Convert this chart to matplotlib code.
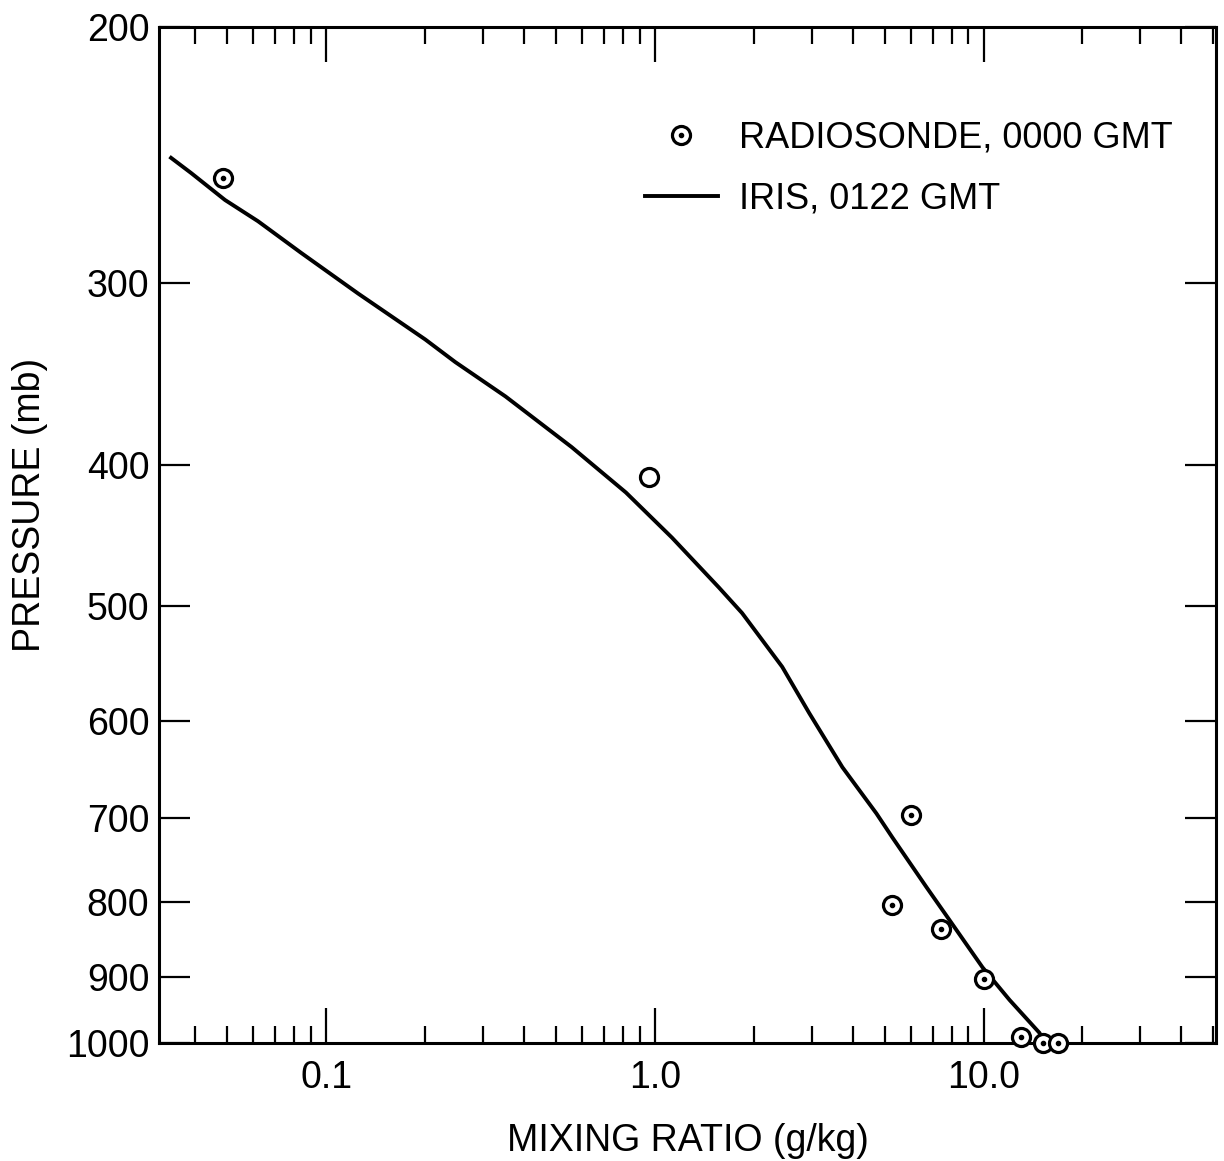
import numpy as np
import matplotlib
matplotlib.use("Agg")
import matplotlib.pyplot as plt
import matplotlib.ticker as ticker
from matplotlib.legend_handler import HandlerTuple

plt.rcParams['font.family'] = ['Liberation Sans', 'DejaVu Sans']

# radiosonde, 0000 GMT
sonde_mr = [0.0485, 0.96, 6.0, 5.28, 7.4, 10.05, 13.0, 15.2, 16.8]
sonde_p = [254, 408, 697, 803, 835, 903, 991, 1000, 1000]
sonde_dot = [True, False, True, True, True, True, True, True, True]

# IRIS, 0122 GMT
iris_mr = [0.0337, 0.0388, 0.0492, 0.062, 0.0839, 0.125, 0.200, 0.247, 0.351,
           0.558, 0.816, 1.127, 1.567, 1.842, 2.44, 2.95, 3.72, 4.72, 5.28,
           6.70, 7.88, 9.93, 12.0, 14.8, 15.35]
iris_p = [246, 252, 263, 272, 286, 305, 328, 340, 359,
          389, 418, 449, 486, 506, 551, 593, 646, 695, 722,
          781, 823, 887, 934, 984, 1000]

p_ticks = [200, 300, 400, 500, 600, 700, 800, 900, 1000]
mr_ticks = [0.1, 1.0, 10.0]
mr_labels = ["0.1", "1.0", "10.0"]

fig = plt.figure(figsize=(12.24, 11.61), dpi=100)
ax = fig.add_axes([0.130, 0.1016, 0.8635, 0.875])

line, = ax.plot(iris_mr, iris_p, color='black', lw=2.8)
circles, = ax.plot(sonde_mr, sonde_p, ls='none', marker='o', ms=13,
                   mfc='white', mec='black', mew=2.3, clip_on=False, zorder=3)
dx = [m for m, d in zip(sonde_mr, sonde_dot) if d]
dy = [p for p, d in zip(sonde_p, sonde_dot) if d]
dots, = ax.plot(dx, dy, ls='none', marker='o', ms=3, color='black',
                clip_on=False, zorder=4)

ax.set_xscale('log')
ax.set_yscale('log')
ax.set_xlim(0.031, 51)
ax.set_ylim(1000, 200)

ax.xaxis.set_major_locator(ticker.FixedLocator(mr_ticks))
ax.xaxis.set_major_formatter(ticker.FixedFormatter(mr_labels))
ax.xaxis.set_minor_locator(ticker.LogLocator(base=10, subs=np.arange(2, 10)))
ax.xaxis.set_minor_formatter(ticker.NullFormatter())
ax.yaxis.set_major_locator(ticker.FixedLocator(p_ticks))
ax.yaxis.set_major_formatter(ticker.FixedFormatter([str(p) for p in p_ticks]))
ax.yaxis.set_minor_locator(ticker.NullLocator())

ax.tick_params(axis='x', which='major', direction='in', top=True, length=25,
               width=1.6, labelsize=27, pad=12)
ax.tick_params(axis='x', which='minor', direction='in', top=True, length=12,
               width=1.6)
ax.tick_params(axis='y', which='major', direction='in', right=True, length=22,
               width=1.6, labelsize=27, pad=7)
for s in ax.spines.values():
    s.set_linewidth(2.2)

ax.set_xlabel("MIXING RATIO (g/kg)", fontsize=27, labelpad=20)
ax.set_ylabel("PRESSURE (mb)", fontsize=27)
ax.yaxis.set_label_coords(-0.105, 0.53)

ax.legend([(circles, dots), line], ["RADIOSONDE, 0000 GMT", "IRIS, 0122 GMT"],
          handler_map={tuple: HandlerTuple(ndivide=1)},
          loc='upper left', bbox_to_anchor=(0.46, 0.908), frameon=False,
          fontsize=26, handlelength=2.0, handletextpad=0.6,
          labelspacing=0.72, borderpad=0, borderaxespad=0, numpoints=1)

fig.savefig("out.png", dpi=100)
